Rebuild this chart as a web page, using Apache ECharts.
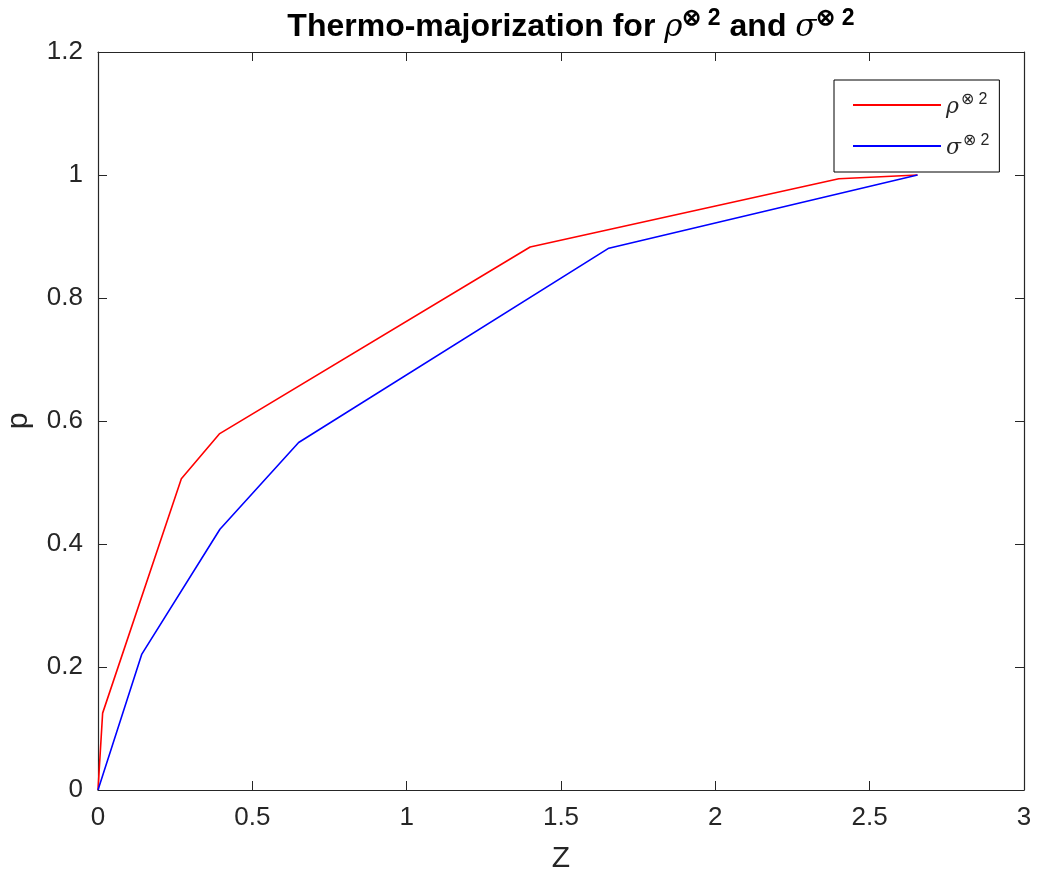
<!DOCTYPE html>
<html>
<head>
<meta charset="utf-8">
<script src="https://cdn.jsdelivr.net/npm/echarts@6/dist/echarts.min.js"></script>
<style>
  html, body { margin: 0; padding: 0; background: #fff; }
  #main { width: 1042px; height: 881px; }
</style>
</head>
<body>
<div id="main"></div>
<script>
// 读图得到的数据点 (Z, p)
var rhoPoints = [[0, 0], [0.015, 0.125], [0.27, 0.506], [0.393, 0.579], [1.4, 0.883], [2.4, 0.994], [2.655, 1.0]];
var sigmaPoints = [[0, 0], [0.142, 0.221], [0.395, 0.424], [0.65, 0.565], [1.655, 0.881], [2.655, 1.0]];
var seriesNames = ['rho', 'sigma'];
var seriesColors = ['#ff0000', '#0000ff'];
var greekLetters = { rho: 'ρ', sigma: 'σ' };
var xTicks = { min: 0, max: 3, interval: 0.5 };
var yTicks = { min: 0, max: 1.2, interval: 0.2 };

var axisColor = '#262626';
var font = 'Liberation Sans, Arial, sans-serif';

var myChart = echarts.init(document.getElementById('main'));

function axisBase(pos, ticks, showLabel) {
    return {
        type: 'value', position: pos,
        min: ticks.min, max: ticks.max, interval: ticks.interval,
        axisLine: { show: true, onZero: false, lineStyle: { color: axisColor, width: 1.2 } },
        axisTick: { show: true, inside: true, length: 9, lineStyle: { color: axisColor } },
        axisLabel: { show: showLabel, margin: 15, fontFamily: font, fontSize: 26, color: axisColor },
        splitLine: { show: false }
    };
}

var xMain = axisBase('bottom', xTicks, true);
xMain.name = 'Z';
xMain.nameLocation = 'middle';
xMain.nameGap = 54;
xMain.nameTextStyle = { fontFamily: font, fontSize: 30, color: axisColor };

var yMain = axisBase('left', yTicks, true);
yMain.name = 'p';
yMain.nameLocation = 'middle';
yMain.nameGap = 64;
yMain.nameTextStyle = { fontFamily: font, fontSize: 30, color: axisColor };

myChart.setOption({
    animation: false,
    title: {
        text: '{a|Thermo-majorization for }{g|ρ}{s|⊗ 2}{a| and }{g|σ}{s|⊗ 2}',
        left: 566,
        textAlign: 'center',
        top: 2,
        textStyle: {
            rich: {
                a: { fontFamily: font, fontWeight: 'bold', fontSize: 32, lineHeight: 36, color: '#000', verticalAlign: 'bottom' },
                g: { fontFamily: 'DejaVu Serif, serif', fontStyle: 'italic', fontWeight: 'normal', fontSize: 31, lineHeight: 36, color: '#000', verticalAlign: 'bottom' },
                s: { fontFamily: font, fontWeight: 'bold', fontSize: 23, lineHeight: 22, color: '#000', verticalAlign: 'top' }
            }
        }
    },
    legend: {
        orient: 'vertical',
        left: 834,
        top: 80,
        padding: [12, 10, 13, 18],
        itemGap: 15,
        itemWidth: 88,
        itemHeight: 14,
        borderColor: '#000',
        borderWidth: 1,
        backgroundColor: '#fff',
        itemStyle: { opacity: 0 },
        data: seriesNames,
        formatter: function (name) {
            return '{g|' + greekLetters[name] + '}{s|⊗ 2}';
        },
        textStyle: {
            rich: {
                g: { fontFamily: 'DejaVu Serif, serif', fontStyle: 'italic', fontSize: 22, lineHeight: 26, color: '#262626', verticalAlign: 'bottom' },
                s: { fontFamily: font, fontSize: 16, lineHeight: 16, color: '#262626', verticalAlign: 'top', padding: [0, 0, 0, 2] }
            }
        }
    },
    grid: {
        left: 98,
        right: 18,
        top: 52,
        bottom: 91,
        containLabel: false,
        outerBoundsMode: 'none'
    },
    xAxis: [xMain, axisBase('top', xTicks, false)],
    yAxis: [yMain, axisBase('right', yTicks, false)],
    series: [
        {
            name: seriesNames[0],
            type: 'line',
            symbol: 'none',
            data: rhoPoints,
            lineStyle: { color: seriesColors[0], width: 1.6 },
            itemStyle: { color: seriesColors[0] }
        },
        {
            name: seriesNames[1],
            type: 'line',
            symbol: 'none',
            data: sigmaPoints,
            lineStyle: { color: seriesColors[1], width: 1.6 },
            itemStyle: { color: seriesColors[1] }
        }
    ]
});
</script>
</body>
</html>
